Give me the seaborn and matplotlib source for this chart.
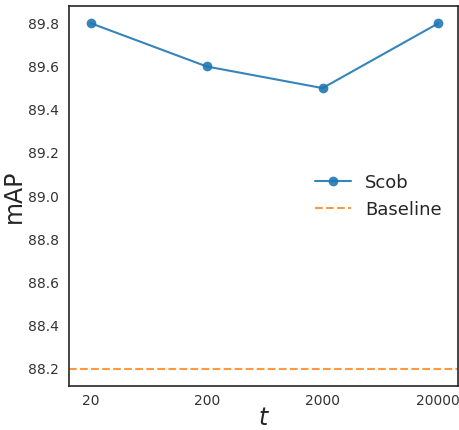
import matplotlib
matplotlib.use("Agg")
import matplotlib.pyplot as plt
import seaborn as sns
import numpy as np

# values
t_labels = ["20", "200", "2000", "20000"]
scob_map = [89.8, 89.6, 89.5, 89.8]
baseline_map = 88.2

sns.set_style("white")
plt.rcParams["font.family"] = ["DejaVu Sans"]

fig = plt.figure(figsize=(4.6, 4.3), dpi=100)
ax = fig.add_axes([0.15, 0.102, 0.8457, 0.884])

pos = np.arange(len(t_labels))
sns.lineplot(x=pos, y=scob_map, marker="o", markersize=7, markeredgewidth=0,
             color="C0", linewidth=1.5, alpha=0.9, label="Scob", ax=ax)
ax.axhline(baseline_map, color="C1", linestyle="--", linewidth=1.5, alpha=0.8,
           label="Baseline")

ax.set_xticks(pos)
ax.set_xticklabels(t_labels)
ax.set_xlim(-0.19, 3.17)
ax.set_yticks(np.arange(88.2, 89.81, 0.2))
ax.set_ylim(88.12, 89.88)
ax.tick_params(labelsize=10, colors="#333333")
ax.tick_params(axis="x", pad=2)

ax.set_xlabel("$t$", fontsize=17, labelpad=-1)
ax.set_ylabel("mAP", fontsize=17, labelpad=2)

for s in ax.spines.values():
    s.set_color("#262626")
    s.set_linewidth(1.2)

ax.legend(loc="center right", frameon=False, fontsize=13, bbox_to_anchor=(1.0, 0.5))

fig.savefig("out.png", dpi=100)
